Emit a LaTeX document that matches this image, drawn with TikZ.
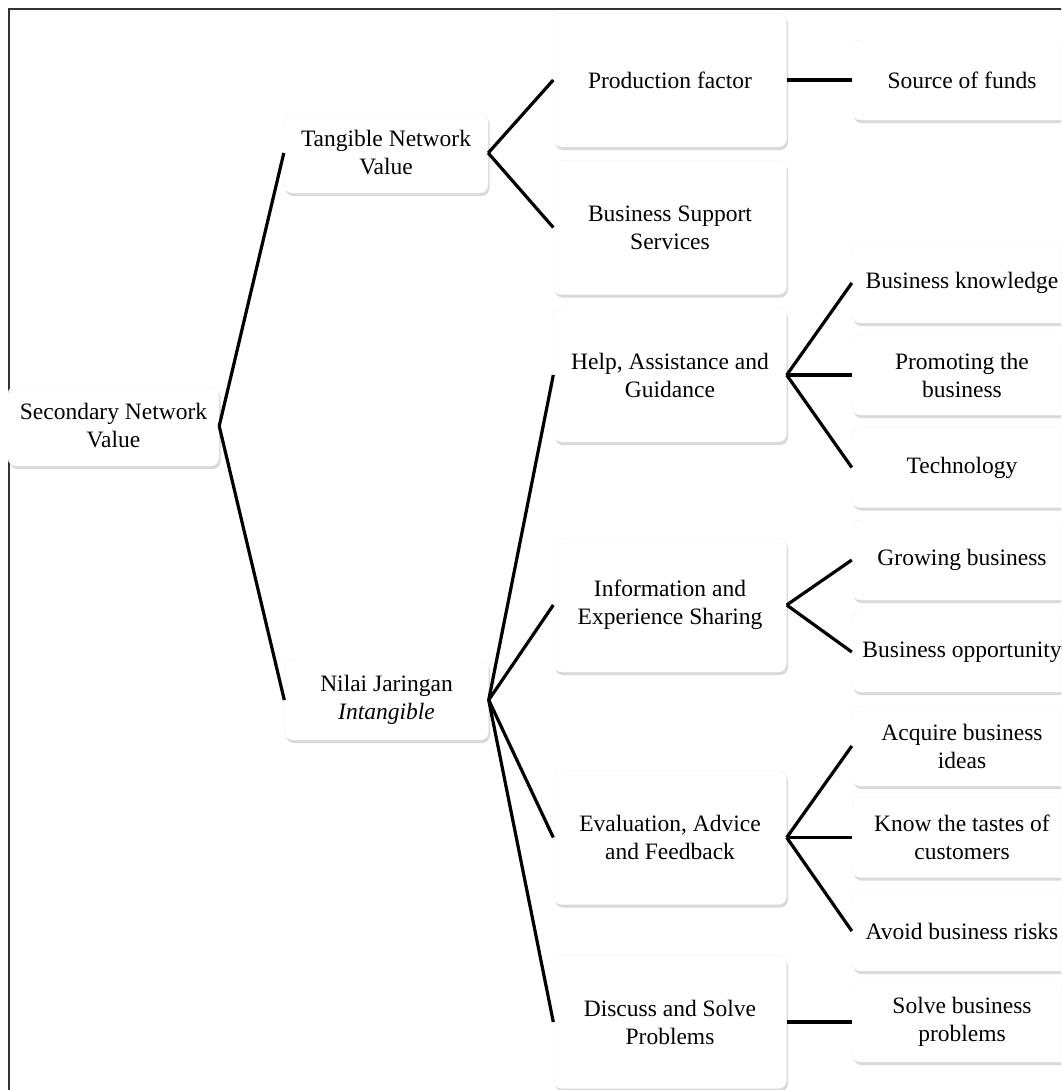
\documentclass[tikz,border=0pt]{standalone}
\usepackage{fontspec}
\setmainfont{Liberation Serif}
\usetikzlibrary{shadows}
\begin{document}
\begin{tikzpicture}[x=1pt,y=-1pt,
  box/.style={draw=gray!12, fill=white, rounded corners=8pt, align=center,
    font=\fontsize{23.5}{28}\selectfont, inner sep=0pt,
    drop shadow={shadow xshift=1.5pt, shadow yshift=-3pt, opacity=0.3, fill=gray}},
  lbox/.style={box, minimum width=211pt, minimum height=80pt},
  mbox/.style={box, minimum width=204pt, minimum height=80pt},
  cbox/.style={box, minimum width=233pt, minimum height=134pt},
  rbox/.style={box, minimum width=220pt, minimum height=80pt},
  conn/.style={line width=3.2pt, black}]
\useasboundingbox (0,0) rectangle (1061,1090);
\clip (0,0) rectangle (1061,1090);
\draw[line width=1.5pt, black!80] (9,9) rectangle (1080,1110);

\node[lbox] (sec) at (113.5,426) {Secondary Network\\Value};
\node[mbox] (tan) at (386,153) {Tangible Network\\Value};
\node[mbox] (nil) at (386.5,700) {Nilai Jaringan\\\textit{Intangible}};

\node[cbox] (pf) at (670,80) {Production factor};
\node[cbox] (bss) at (670,227.5) {Business Support\\Services};
\node[cbox] (help) at (670,375) {Help, Assistance and\\Guidance};
\node[cbox] (info) at (670,605) {Information and\\Experience Sharing};
\node[cbox] (eval) at (670,837.5) {Evaluation, Advice\\and Feedback};
\node[cbox, minimum height=133pt] (disc) at (670,1022) {Discuss and Solve\\Problems};

\node[rbox] (sof) at (962,80) {Source of funds};
\node[rbox] (bk) at (962,283) {Business knowledge};
\node[rbox] (prom) at (962,375) {Promoting the\\business};
\node[rbox] (tech) at (962,467.5) {Technology};
\node[rbox] (grow) at (962,560) {Growing business};
\node[rbox] (opp) at (962,652) {Business opportunity};
\node[rbox] (acq) at (962,746) {Acquire business\\ideas};
\node[rbox] (know) at (962,837.5) {Know the tastes of\\customers};
\node[rbox] (avoid) at (962,931) {Avoid business risks};
\node[rbox] (solve) at (962,1022) {Solve business\\problems};

\draw[conn] (sec.east) -- (tan.west);
\draw[conn] (sec.east) -- (nil.west);
\draw[conn] (tan.east) -- (pf.west);
\draw[conn] (tan.east) -- (bss.west);
\draw[conn] (nil.east) -- (help.west);
\draw[conn] (nil.east) -- (info.west);
\draw[conn] (nil.east) -- (eval.west);
\draw[conn] (nil.east) -- (disc.west);
\draw[conn] (pf.east) -- (sof.west);
\draw[conn] (help.east) -- (bk.west);
\draw[conn] (help.east) -- (prom.west);
\draw[conn] (help.east) -- (tech.west);
\draw[conn] (info.east) -- (grow.west);
\draw[conn] (info.east) -- (opp.west);
\draw[conn] (eval.east) -- (acq.west);
\draw[conn] (eval.east) -- (know.west);
\draw[conn] (eval.east) -- (avoid.west);
\draw[conn] (disc.east) -- (solve.west);
\end{tikzpicture}
\end{document}
